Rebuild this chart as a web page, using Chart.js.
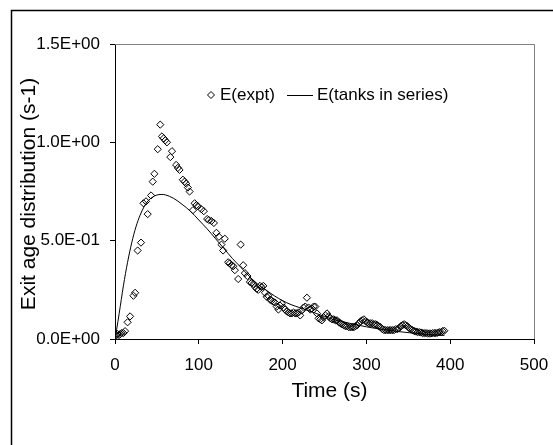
<!DOCTYPE html>
<html>
<head>
<meta charset="utf-8">
<script src="https://cdn.jsdelivr.net/npm/chart.js@4/dist/chart.umd.min.js"></script>
<style>
  html, body { margin: 0; padding: 0; background: #fff; }
  #wrap { width: 553px; height: 445px; position: relative; }
</style>
</head>
<body>
<div id="wrap"><canvas id="grafico" width="553" height="445"></canvas></div>
<script>
// Datos
const tiempoExpt = [0, 2, 3, 5, 6, 8, 10, 12, 15, 18, 22, 24, 27, 31, 34, 37, 39, 43, 45, 47,
  51, 54, 56, 58, 60, 62, 66, 68, 73, 75, 77, 81, 83, 85, 87, 89, 93, 95, 97, 99,
  103, 106, 110, 112, 115, 118, 121, 124, 127, 129, 131, 135, 137, 139, 141, 143, 147, 150, 153, 155,
  158, 161, 163, 165, 167, 169, 171, 173, 175, 177, 179, 181, 183, 185, 187, 189, 191, 193, 195, 197,
  199, 201, 203, 205, 207, 209, 211, 213, 215, 217, 219, 221, 223, 225, 227, 229, 231, 233, 235, 237,
  239, 241, 243, 245, 247, 249, 251, 253, 255, 257, 259, 261, 263, 265, 267, 269, 271, 273, 275, 277,
  279, 281, 283, 285, 287, 289, 291, 293, 295, 297, 299, 301, 303, 305, 307, 309, 311, 313, 315, 317,
  319, 321, 323, 325, 327, 329, 331, 333, 335, 337, 339, 341, 343, 345, 347, 349, 351, 353, 355, 357,
  359, 361, 363, 365, 367, 369, 371, 373, 375, 377, 379, 381, 383, 385, 387, 389, 391, 393]
const eExpt = [0.02, 0.02, 0.025, 0.02, 0.025, 0.03, 0.03, 0.04, 0.085, 0.115, 0.22, 0.235, 0.45, 0.49, 0.69, 0.70, 0.635, 0.73, 0.80, 0.84,
  0.965, 1.09, 1.03, 1.02, 1.01, 1.0, 0.925, 0.955, 0.885, 0.87, 0.86, 0.81, 0.80, 0.79, 0.77, 0.75, 0.655, 0.69, 0.68, 0.675,
  0.66, 0.65, 0.61, 0.605, 0.60, 0.59, 0.54, 0.52, 0.48, 0.45, 0.51, 0.39, 0.385, 0.375, 0.37, 0.35, 0.305, 0.48, 0.375, 0.335,
  0.32, 0.29, 0.285, 0.28, 0.265, 0.255, 0.25, 0.27, 0.265, 0.27, 0.235, 0.215, 0.22, 0.20, 0.195, 0.19, 0.185, 0.165, 0.15, 0.17,
  0.18, 0.16, 0.15, 0.14, 0.135, 0.13, 0.13, 0.135, 0.13, 0.13, 0.135, 0.12, 0.145, 0.16, 0.165, 0.21, 0.16, 0.15, 0.155, 0.165,
  0.165, 0.13, 0.105, 0.10, 0.095, 0.11, 0.12, 0.13, 0.115, 0.105, 0.10, 0.10, 0.095, 0.095, 0.085, 0.08, 0.075, 0.07, 0.065, 0.065,
  0.06, 0.06, 0.06, 0.06, 0.065, 0.07, 0.08, 0.09, 0.095, 0.10, 0.09, 0.085, 0.08, 0.08, 0.08, 0.075, 0.075, 0.07, 0.065, 0.06,
  0.05, 0.045, 0.045, 0.045, 0.045, 0.045, 0.045, 0.045, 0.05, 0.05, 0.055, 0.065, 0.07, 0.075, 0.07, 0.065, 0.055, 0.05, 0.045, 0.04,
  0.038, 0.035, 0.035, 0.033, 0.03, 0.03, 0.03, 0.028, 0.028, 0.028, 0.03, 0.03, 0.03, 0.032, 0.035, 0.035, 0.04, 0.042]

const tiempoModelo = [0, 2, 5, 10, 15, 20, 25, 30, 35, 40, 45, 50, 55, 60, 70, 80, 90, 100, 110, 120,
  130, 140, 150, 160, 170, 180, 190, 200, 210, 220, 230, 240, 250, 260, 270, 280, 300, 320, 340, 360, 380, 393]
const eModelo = [0, 0.05, 0.13, 0.27, 0.39, 0.49, 0.57, 0.63, 0.675, 0.705, 0.722, 0.732, 0.735, 0.733, 0.715, 0.685, 0.65, 0.605, 0.56, 0.51,
  0.46, 0.41, 0.365, 0.32, 0.28, 0.25, 0.22, 0.195, 0.175, 0.16, 0.145, 0.13, 0.115, 0.10, 0.09, 0.08, 0.062, 0.048, 0.037, 0.028, 0.021, 0.018]

const etiquetas = ['E(expt)', 'E(tanks in series)']
const tituloX = 'Time (s)'
const tituloY = 'Exit age distribution (s-1)'

const fuente = '"Liberation Sans", Arial, sans-serif'

// formato tipo Excel: 1.5E+00
function formatoExp(v) {
  const [m, e] = Number(v).toExponential(1).split('e')
  const n = parseInt(e, 10)
  const signo = n < 0 ? '-' : '+'
  return m + 'E' + signo + String(Math.abs(n)).padStart(2, '0')
}

// marco exterior, borde gris del área, títulos y leyenda
const extras = {
  id: 'extras',
  beforeDraw(chart) {
    const ctx = chart.ctx
    ctx.save()
    ctx.fillStyle = '#fff'
    ctx.fillRect(0, 0, chart.width, chart.height)
    ctx.strokeStyle = '#000'
    ctx.lineWidth = 1.5
    ctx.strokeRect(11.5, 10.5, 700, 700)
    ctx.restore()
  },
  beforeDatasetsDraw(chart) {
    const { ctx, chartArea: a } = chart
    ctx.save()
    ctx.strokeStyle = '#808080'
    ctx.lineWidth = 1
    ctx.beginPath()
    ctx.moveTo(a.left, a.top + 0.5)
    ctx.lineTo(a.right + 0.5, a.top + 0.5)
    ctx.lineTo(a.right + 0.5, a.bottom)
    ctx.stroke()
    ctx.restore()
  },
  afterDraw(chart) {
    const { ctx, chartArea: a } = chart
    ctx.save()
    ctx.fillStyle = '#000'
    ctx.font = '21px ' + fuente
    ctx.textAlign = 'center'
    ctx.textBaseline = 'middle'
    ctx.fillText(tituloX, (a.left + a.right) / 2 + 5, 391)
    ctx.translate(29, 194)
    ctx.rotate(-Math.PI / 2)
    ctx.fillText(tituloY, 0, 0)
    ctx.restore()

    // leyenda
    ctx.save()
    ctx.font = '17px ' + fuente
    ctx.textBaseline = 'middle'
    ctx.textAlign = 'left'
    ctx.fillStyle = '#000'
    ctx.strokeStyle = '#000'
    ctx.lineWidth = 1
    const y = 95
    ctx.beginPath()
    ctx.moveTo(211, y - 3.5)
    ctx.lineTo(214.5, y)
    ctx.lineTo(211, y + 3.5)
    ctx.lineTo(207.5, y)
    ctx.closePath()
    ctx.stroke()
    ctx.fillText(chart.data.datasets[0].label, 220, y)
    ctx.beginPath()
    ctx.moveTo(287, y + 0.5)
    ctx.lineTo(313, y + 0.5)
    ctx.stroke()
    ctx.fillText(chart.data.datasets[1].label, 317, y)
    ctx.restore()
  }
}

const ctx = document.getElementById('grafico').getContext('2d')
new Chart(ctx, {
  type: 'scatter',
  data: {
    datasets: [
      {
        label: etiquetas[0],
        data: tiempoExpt.map((t, i) => ({ x: t, y: eExpt[i] })),
        pointStyle: 'rectRot',
        pointRadius: 3.6,
        borderColor: '#000',
        backgroundColor: 'rgba(0,0,0,0)',
        borderWidth: 1,
        showLine: false
      },
      {
        label: etiquetas[1],
        data: tiempoModelo.map((t, i) => ({ x: t, y: eModelo[i] })),
        showLine: true,
        pointRadius: 0,
        borderColor: '#000',
        borderWidth: 1,
        cubicInterpolationMode: 'monotone'
      }
    ]
  },
  options: {
    responsive: false,
    animation: false,
    devicePixelRatio: 1,
    layout: { padding: { left: 0, top: 44, right: 19, bottom: 0 } },
    plugins: { legend: { display: false }, tooltip: { enabled: false } },
    scales: {
      x: {
        type: 'linear',
        min: 0, max: 500,
        afterFit(s) { s.height = 106; s.paddingLeft = 0; s.paddingRight = 0 },
        ticks: { stepSize: 100, color: '#000', padding: 11, maxRotation: 0, font: { family: fuente, size: 17 } },
        grid: { drawOnChartArea: false, drawTicks: true, tickLength: 5, color: '#000' },
        border: { display: true, color: '#000', width: 1 }
      },
      y: {
        type: 'linear',
        min: 0, max: 1.5,
        afterFit(s) { s.width = 115; s.paddingTop = 0; s.paddingBottom = 0 },
        ticks: { stepSize: 0.5, color: '#000', padding: 10, font: { family: fuente, size: 17 }, callback: v => formatoExp(v) },
        grid: { drawOnChartArea: false, drawTicks: true, tickLength: 5, color: '#000' },
        border: { display: true, color: '#000', width: 1 }
      }
    }
  },
  plugins: [extras]
})
</script>
</body>
</html>
